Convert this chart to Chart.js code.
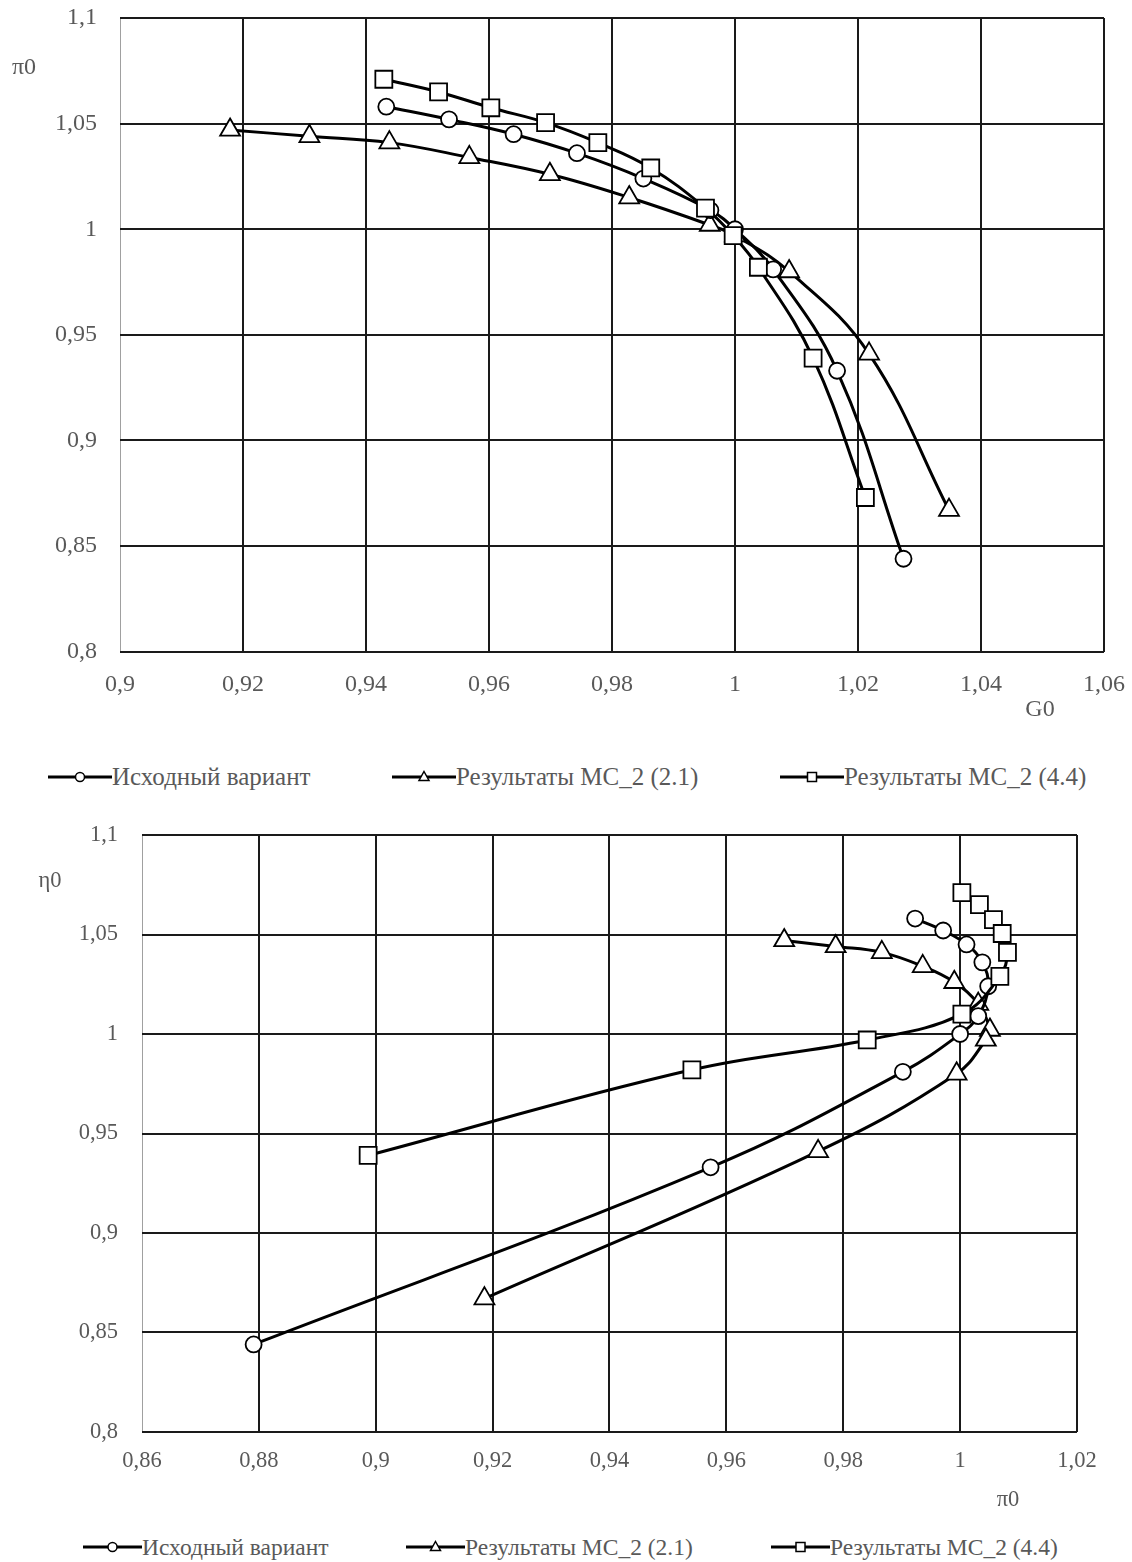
<!DOCTYPE html>
<html>
<head>
<meta charset="utf-8">
<script src="https://cdn.jsdelivr.net/npm/chart.js@4.4.0/dist/chart.umd.min.js"></script>
<style>
body { margin:0; background:#fff; width:1132px; height:1562px; position:relative; overflow:hidden;
       font-family:'Liberation Serif','Times New Roman',serif; color:#595959; }
canvas { position:absolute; left:0; }
.legend { position:absolute; left:0; width:1132px; height:30px; }
.item { position:absolute; top:0; height:30px; display:flex; align-items:center; white-space:nowrap; }
</style>
</head>
<body>
<canvas id="chart-g0" width="1132" height="740" style="top:0"></canvas>
<div class="legend" id="legend-g0" style="top:762px"></div>
<canvas id="chart-eta0" width="1132" height="720" style="top:800px"></canvas>
<div class="legend" id="legend-eta0" style="top:1532px"></div>
<script>
// series names
const seriesNames = ['Исходный вариант', 'Результаты MC_2 (2.1)', 'Результаты MC_2 (4.4)'];

// Исходный вариант
const g0Orig   = [0.9433, 0.9535, 0.9640, 0.9743, 0.9851, 0.9960, 1.0000, 1.0062, 1.0166, 1.0274];
const pi0Orig  = [1.058, 1.052, 1.045, 1.036, 1.024, 1.009, 1.000, 0.981, 0.933, 0.844];
const eta0Orig = [0.9923, 0.9971, 1.0011, 1.0038, 1.0048, 1.0031, 1.0000, 0.9902, 0.9573, 0.8791];

// Результаты MC_2 (2.1)
const g0Mc21   = [0.9179, 0.9308, 0.9438, 0.9568, 0.9699, 0.9828, 0.9959, 1.0000, 1.0088, 1.0218, 1.0348];
const pi0Mc21  = [1.047, 1.044, 1.041, 1.034, 1.026, 1.015, 1.002, 0.997, 0.980, 0.941, 0.867];
const eta0Mc21 = [0.9699, 0.9787, 0.9866, 0.9936, 0.9990, 1.0031, 1.0051, 1.0044, 0.9994, 0.9757, 0.9186];

// Результаты MC_2 (4.4)
const g0Mc44   = [0.9429, 0.9518, 0.9603, 0.9692, 0.9777, 0.9863, 0.9952, 0.9997, 1.0038, 1.0127, 1.0212];
const pi0Mc44  = [1.071, 1.065, 1.0575, 1.0505, 1.041, 1.029, 1.010, 0.997, 0.982, 0.939, 0.873];
const eta0Mc44 = [1.0003, 1.0033, 1.0057, 1.0072, 1.0081, 1.0068, 1.0003, 0.9841, 0.9541, 0.8987, null];

// axis ticks: min, max, step
const g0Ticks  = [0.90, 1.06, 0.02];
const eta0Ticks = [0.86, 1.02, 0.02];
const vertTicks = [0.8, 1.1, 0.05];

const styles = [
    { pointStyle: 'circle',   pointRadius: 8,    order: 1 },
    { pointStyle: 'triangle', pointRadius: 11.5, order: 2 },
    { pointStyle: 'rect',     pointRadius: 12,   order: 0 }
];

function toPoints(xs, ys) {
    let pts = [];
    for (let i = 0; i < xs.length; i++)
        if (xs[i] !== null) pts.push({ x: xs[i], y: ys[i] });
    return pts;
}

function fmt(v) {
    return String(Math.round(v * 100) / 100).replace('.', ',');
}

const titlePlugin = {
    id: 'axisTitles',
    afterDraw(chart, args, opts) {
        let ctx = chart.ctx;
        ctx.save();
        ctx.font = opts.size + 'px "Liberation Serif"';
        ctx.fillStyle = '#595959';
        ctx.textAlign = 'center';
        ctx.textBaseline = 'middle';
        opts.items.forEach(t => ctx.fillText(t.text, t.x, t.y));
        ctx.restore();
    }
};

function noPadding(s) {
    s.paddingTop = s.paddingBottom = s.paddingLeft = s.paddingRight = 0;
}

function makeChart(id, series, xTicks, area, fontSize, xPad, yPad, titles) {
    let canvas = document.getElementById(id),
        W = canvas.width, H = canvas.height;
    let datasets = series.map((s, i) => ({
        label: seriesNames[i],
        data: s,
        showLine: true,
        tension: 0.4,
        borderColor: '#000',
        borderWidth: 3,
        pointBackgroundColor: '#fff',
        pointBorderColor: '#000',
        pointBorderWidth: 1.8,
        pointStyle: styles[i].pointStyle,
        pointRadius: styles[i].pointRadius,
        order: styles[i].order
    }));
    let tickFont = { family: 'Liberation Serif', size: fontSize };
    return new Chart(canvas, {
        type: 'scatter',
        data: { datasets: datasets },
        plugins: [titlePlugin],
        options: {
            responsive: false,
            animation: false,
            devicePixelRatio: 1,
            layout: { padding: { left: 0, top: area.top, right: W - area.right, bottom: 0 } },
            plugins: {
                legend: { display: false },
                tooltip: { enabled: false },
                axisTitles: { items: titles, size: fontSize }
            },
            scales: {
                x: {
                    type: 'linear',
                    min: xTicks[0], max: xTicks[1],
                    afterFit: s => { s.height = H - area.bottom; noPadding(s); },
                    ticks: { stepSize: xTicks[2], callback: fmt, padding: xPad, color: '#595959', font: tickFont },
                    grid: { drawTicks: false,
                            color: c => c.index === 0 ? '#a0a0a0' : '#1a1a1a',
                            lineWidth: c => c.index === 0 ? 1 : 2 },
                    border: { display: false }
                },
                y: {
                    type: 'linear',
                    min: vertTicks[0], max: vertTicks[1],
                    afterFit: s => { s.width = area.left; noPadding(s); },
                    ticks: { stepSize: vertTicks[2], callback: fmt, padding: yPad, color: '#595959', font: tickFont },
                    grid: { drawTicks: false, color: '#1a1a1a', lineWidth: 2 },
                    border: { display: false }
                }
            }
        }
    });
}

// верхний график: G0 - π0
makeChart('chart-g0',
    [toPoints(g0Orig, pi0Orig), toPoints(g0Mc21, pi0Mc21), toPoints(g0Mc44, pi0Mc44)],
    g0Ticks, { left: 120, top: 18, right: 1104, bottom: 651.7 }, 24, 19, 23,
    [{ text: 'π0', x: 24, y: 68 }, { text: 'G0', x: 1040, y: 710 }]);

// нижний график (оси подписаны как в оригинале)
makeChart('chart-eta0',
    [toPoints(eta0Orig, pi0Orig), toPoints(eta0Mc21, pi0Mc21), toPoints(eta0Mc44, pi0Mc44)],
    eta0Ticks, { left: 142, top: 35, right: 1077, bottom: 632 }, 22.5, 16, 24,
    [{ text: 'η0', x: 50, y: 81 }, { text: 'π0', x: 1008, y: 700 }]);

// легенда: линия с маркером + текст
function legendSymbol(style, w) {
    let c = w / 2, m;
    if (style === 'circle') m = `<circle cx="${c}" cy="15" r="4.5" fill="#fff" stroke="#000" stroke-width="1.5"/>`;
    else if (style === 'triangle') m = `<polygon points="${c},9.5 ${c + 5},18.5 ${c - 5},18.5" fill="#fff" stroke="#000" stroke-width="1.5"/>`;
    else m = `<rect x="${c - 4.5}" y="10.5" width="9" height="9" fill="#fff" stroke="#000" stroke-width="1.5"/>`;
    return `<svg width="${w}" height="30"><line x1="0" y1="15" x2="${w}" y2="15" stroke="#000" stroke-width="3"/>${m}</svg>`;
}

function createLegend(id, lefts, symW, size) {
    let el = document.getElementById(id);
    for (let i = 0; i < seriesNames.length; i++) {
        el.insertAdjacentHTML('beforeend',
            `<div class="item" style="left:${lefts[i]}px;font-size:${size}px">${legendSymbol(styles[i].pointStyle, symW)}<span>${seriesNames[i]}</span></div>`);
    }
}
createLegend('legend-g0', [48, 392, 780], 64, 25);
createLegend('legend-eta0', [83, 406, 771], 59, 23.5);
</script>
</body>
</html>
